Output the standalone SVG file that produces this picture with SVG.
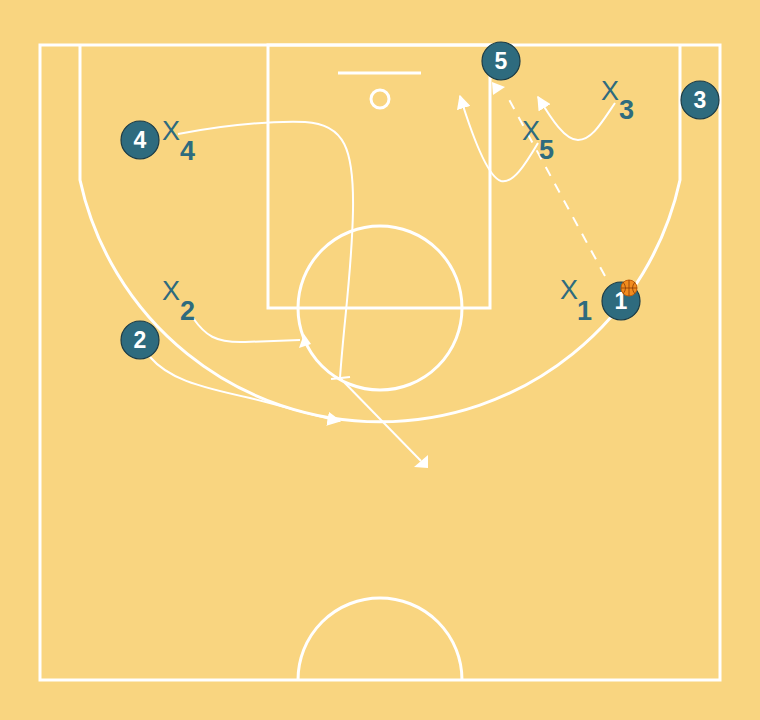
<svg xmlns="http://www.w3.org/2000/svg" width="760" height="720" viewBox="0 0 760 720">
<style>
.court{fill:none;stroke:#fff;stroke-width:3}
.mv{fill:none;stroke:#fff;stroke-width:2}
.head{fill:#fff;stroke:none}
.pl circle{fill:#2e6b7e;stroke:#1c3b45;stroke-width:1.2}
.pl text{font-family:"Liberation Sans",Arial,sans-serif;font-weight:bold;font-size:23px;fill:#fff;text-anchor:middle}
.df text{font-family:"Liberation Sans",Arial,sans-serif;fill:#2e6b7e}
.dx{font-size:27px}
.dn{font-size:27px;font-weight:bold}
</style>
<defs>
<marker id="arr" viewBox="0 0 10 10" refX="9" refY="5" markerWidth="14" markerHeight="14" markerUnits="userSpaceOnUse" orient="auto">
<path d="M0,0 L10,5 L0,10 z" fill="#fff"/>
</marker>
</defs>
<rect width="760" height="720" fill="#f9d580"/>
<g id="court">
<rect class="court" x="40" y="45" width="680" height="635"/>
<path class="court" d="M80,45 V180 A307,307 0 0 0 680,180 V45"/>
<rect class="court" x="268" y="45" width="222" height="263"/>
<circle class="court" cx="380" cy="308" r="82"/>
<line class="court" x1="338" y1="73" x2="421" y2="73" stroke-width="2"/>
<circle class="court" cx="380" cy="99" r="9"/>
<path class="court" d="M298,680 A82,82 0 0 1 462,680"/>
</g>
<g id="connectors">
<path class="mv" d="M178,134 C230,124 270,121 305,122 C345,124 354,150 353,210 C352,270 344,320 340,378"/>
<line class="mv" x1="331" y1="379" x2="350" y2="377"/>
<line class="mv" x1="340" y1="378" x2="421" y2="461"/>
<polygon class="head" points="428,455 428,468 414,467"/>
<path class="mv" d="M193,318 C205,335 215,343 245,342 L300,340"/>
<polygon class="head" points="304,334 299,348 311,344"/>
<path class="mv" d="M150,357 C168,378 195,386 250,398 C290,408 318,417 340,421" marker-end="url(#arr)"/>
<path class="mv" d="M538,143 C525,165 513,184 501,181 C488,177 472,135 460,96" marker-end="url(#arr)"/>
<path class="mv" d="M615,103 C602,122 592,140 578,140 C565,140 552,120 538,97" marker-end="url(#arr)"/>
<line class="mv" x1="605" y1="276" x2="506" y2="94" stroke-dasharray="10,9"/>
<polygon class="head" points="492,82 505,87 493,95"/>
</g>
<g id="p5" class="pl"><circle cx="501" cy="61" r="19"/><text x="501" y="69">5</text></g>
<g id="p3" class="pl"><circle cx="700" cy="100" r="19"/><text x="700" y="108">3</text></g>
<g id="p4" class="pl"><circle cx="140" cy="140" r="19"/><text x="140" y="148">4</text></g>
<g id="p2" class="pl"><circle cx="140" cy="340" r="19"/><text x="140" y="348">2</text></g>
<g id="p1" class="pl"><circle cx="621" cy="301" r="19"/><text x="621" y="309">1</text></g>
<g id="ball"><circle cx="629" cy="288" r="8" fill="#f28c1e" stroke="#c5600a" stroke-width="1"/><path d="M621,288 H637 M629,280 V296 M623,282 Q628,288 623,294 M635,282 Q630,288 635,294" fill="none" stroke="#8a3d05" stroke-width="0.8"/></g>
<g id="x4" class="df"><text class="dx" x="162" y="140">X</text><text class="dn" x="180" y="160">4</text></g>
<g id="x2" class="df"><text class="dx" x="162" y="300">X</text><text class="dn" x="180" y="320">2</text></g>
<g id="x1" class="df"><text class="dx" x="560" y="299">X</text><text class="dn" x="577" y="320">1</text></g>
<g id="x5" class="df"><text class="dx" x="522" y="140">X</text><text class="dn" x="539" y="159">5</text></g>
<g id="x3" class="df"><text class="dx" x="601" y="100">X</text><text class="dn" x="619" y="119">3</text></g>
</svg>
